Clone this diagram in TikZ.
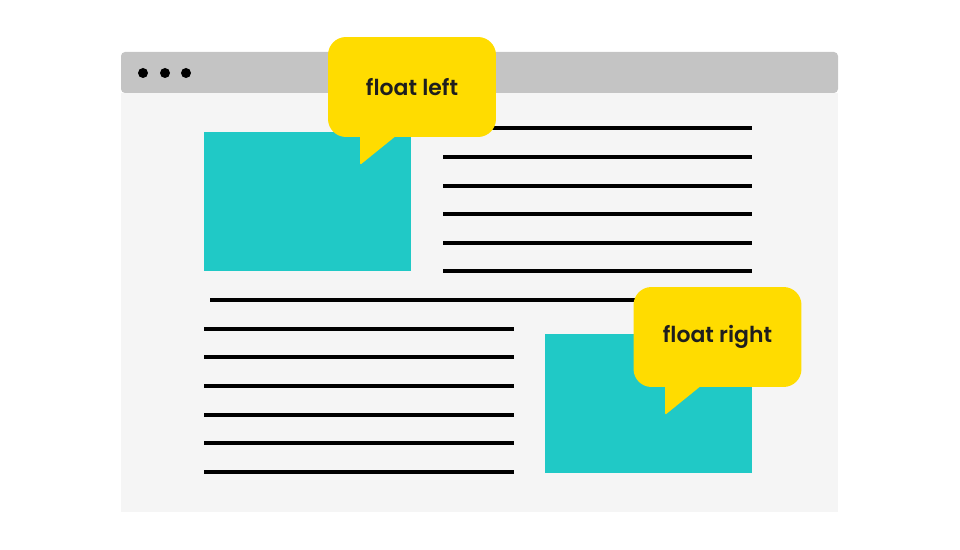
\documentclass[tikz,border=0pt]{standalone}
\usepackage{fontspec}
\setmainfont{Poppins}[BoldFont={Poppins SemiBold}]
\usepackage{tikz}
\usetikzlibrary{positioning, calc}

\definecolor{barGray}{HTML}{C4C4C4}
\definecolor{pageGray}{HTML}{F5F5F5}
\definecolor{floatCyan}{HTML}{20C9C6}
\definecolor{tipYellow}{HTML}{FFDC00}
\definecolor{inkDark}{HTML}{1E1E1E}

\tikzset{
    textline/.style={line width=1.85pt, color=black},
    floatbox/.style={fill=floatCyan, inner sep=0pt, minimum width=4.14cm, minimum height=2.78cm},
    bubble/.style={fill=tipYellow, rounded corners=0.36cm, inner sep=0pt,
        minimum width=3.36cm, minimum height=2cm, font=\bfseries\fontsize{12.5}{14}\selectfont, text=inkDark},
}

\begin{document}
\begin{tikzpicture}[x=0.02cm, y=-0.02cm]
    \useasboundingbox (0,0) rectangle (960,550);

    % browser window
    \fill[pageGray] (121,93) rectangle (838,512);
    \fill[barGray, rounded corners=0.08cm] (121,93) -- (121,52) -- (838,52) -- (838,93) -- cycle;
    \foreach \x in {143,165,186}
        \fill[black] (\x,73) circle (0.1cm);

    % text lines
    \foreach \y in {128,157,186,214,243,271}
        \draw[textline] (443,\y) -- (752,\y);
    \draw[textline] (210,300) -- (752,300);
    \foreach \y in {329,357,386,415,443,472}
        \draw[textline] (204,\y) -- (514,\y);

    % floated boxes
    \node[floatbox] (leftbox) at (307.5,201.5) {};
    \node[floatbox] (rightbox) at (648.5,403.5) {};

    % speech bubbles
    \fill[tipYellow, rounded corners=0.04cm] (360,125) -- (360,165) -- (402,131) -- (402,125) -- cycle;
    \node[bubble] (leftnote) at (412,87) {float left};
    \fill[tipYellow, rounded corners=0.04cm] (665,375) -- (665,415) -- (707,381) -- (707,375) -- cycle;
    \node[bubble] (rightnote) at (717.5,337) {float right};
\end{tikzpicture}
\end{document}
